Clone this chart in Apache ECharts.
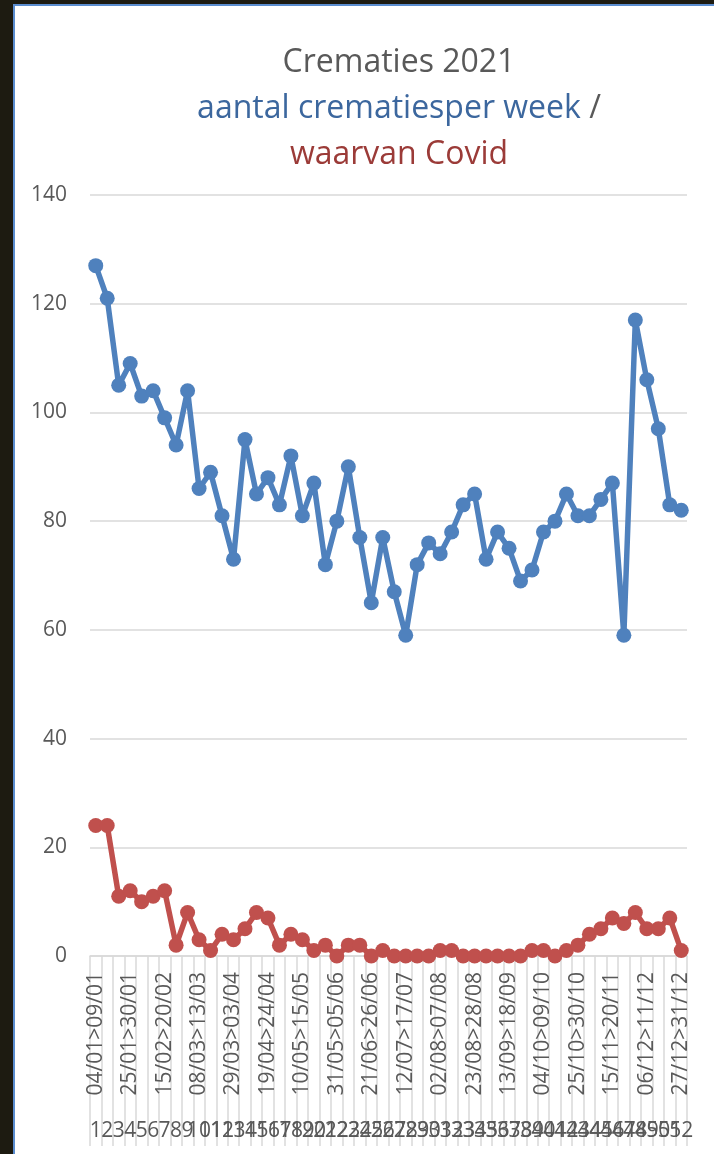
<!DOCTYPE html>
<html>
<head>
<meta charset="utf-8">
<script src="https://cdn.jsdelivr.net/npm/echarts@6/dist/echarts.min.js"></script>
<style>
  html, body { margin: 0; padding: 0; background: #1d1b11; }
  .frame {
    position: absolute; left: 13px; top: 4px; right: 0; bottom: 0;
    background: #fff;
    border-left: 2.5px solid #5b8dcf;
    border-top: 2px solid #5b8dcf;
  }
  #main { position: absolute; left: 0; top: 0; width: 714px; height: 1154px; }
</style>
</head>
<body>
<div class="frame"></div>
<div id="main"></div>
<script>
// week ranges (Mon > Sat) and week numbers
const weekRanges = [
  '04/01>09/01', '11/01>16/01', '18/01>23/01', '25/01>30/01', '01/02>06/02', '08/02>13/02',
  '15/02>20/02', '22/02>27/02', '01/03>06/03', '08/03>13/03', '15/03>20/03', '22/03>27/03',
  '29/03>03/04', '05/04>10/04', '12/04>17/04', '19/04>24/04', '26/04>01/05', '03/05>08/05',
  '10/05>15/05', '17/05>22/05', '24/05>29/05', '31/05>05/06', '07/06>12/06', '14/06>19/06',
  '21/06>26/06', '28/06>03/07', '05/07>10/07', '12/07>17/07', '19/07>24/07', '26/07>31/07',
  '02/08>07/08', '09/08>14/08', '16/08>21/08', '23/08>28/08', '30/08>04/09', '06/09>11/09',
  '13/09>18/09', '20/09>25/09', '27/09>02/10', '04/10>09/10', '11/10>16/10', '18/10>23/10',
  '25/10>30/10', '01/11>06/11', '08/11>13/11', '15/11>20/11', '22/11>27/11', '29/11>04/12',
  '06/12>11/12', '13/12>18/12', '20/12>25/12', '27/12>31/12'
]
const weekNumbers = [
  '1', '2', '3', '4', '5', '6', '7', '8', '9', '10', '11', '12', '13',
  '14', '15', '16', '17', '18', '19', '20', '21', '22', '23', '24', '25', '26',
  '27', '28', '29', '30', '31', '32', '33', '34', '35', '36', '37', '38', '39',
  '40', '41', '42', '43', '44', '45', '46', '47', '48', '49', '50', '51', '52'
]
const crematies = [
  127, 121, 105, 109, 103, 104, 99, 94, 104, 86, 89, 81, 73,
  95, 85, 88, 83, 92, 81, 87, 72, 80, 90, 77, 65, 77,
  67, 59, 72, 76, 74, 78, 83, 85, 73, 78, 75, 69, 71,
  78, 80, 85, 81, 81, 84, 87, 59, 117, 106, 97, 83, 82
]
const covid = [
  24, 24, 11, 12, 10, 11, 12, 2, 8, 3, 1, 4, 3,
  5, 8, 7, 2, 4, 3, 1, 2, 0, 2, 2, 0, 1,
  0, 0, 0, 0, 1, 1, 0, 0, 0, 0, 0, 0, 1,
  1, 0, 1, 2, 4, 5, 7, 6, 8, 5, 5, 7, 1
]

const font = '"Open Sans", sans-serif'
const grey = '#595959'
const lineGrey = '#d9d9d9'

const chart = echarts.init(document.getElementById('main'))
chart.setOption({
  animation: false,
  title: {
    text: '{g|Crematies 2021}\n{b|aantal crematiesper week }{g|/}\n{r|waarvan Covid}',
    left: 394,
    top: 35,
    textAlign: 'center',
    textStyle: {
      fontFamily: font,
      fontWeight: 'normal',
      rich: {
        g: { color: grey, fontSize: 32, lineHeight: 46, fontFamily: font, fontWeight: 'normal' },
        b: { color: '#3c679e', fontSize: 32, lineHeight: 46, fontFamily: font, fontWeight: 'normal' },
        r: { color: '#9b3b38', fontSize: 32, lineHeight: 46, fontFamily: font, fontWeight: 'normal' }
      }
    }
  },
  grid: { left: 90, right: 27, top: 195, bottom: 198, containLabel: false },
  xAxis: [
    {
      type: 'category',
      data: weekRanges,
      boundaryGap: true,
      axisLine: { lineStyle: { color: lineGrey, width: 1.5 } },
      axisTick: { show: true, interval: 0, length: 190, lineStyle: { color: lineGrey, width: 1.5 } },
      axisLabel: {
        interval: 2,
        rotate: 90,
        margin: 16,
        color: grey,
        fontSize: 21,
        fontFamily: font
      }
    },
    {
      type: 'category',
      data: weekNumbers,
      position: 'bottom',
      boundaryGap: true,
      axisLine: { show: false },
      axisTick: { show: false },
      axisLabel: {
        interval: 0,
        margin: 165,
        color: grey,
        fontSize: 21,
        fontFamily: font
      }
    }
  ],
  yAxis: {
    type: 'value',
    min: 0,
    max: 140,
    interval: 20,
    axisLine: { show: false },
    axisTick: { show: false },
    splitLine: { lineStyle: { color: lineGrey, width: 1.5 } },
    axisLabel: { color: grey, fontSize: 21, fontFamily: font, margin: 23 }
  },
  series: [
    {
      name: 'aantal crematies per week',
      type: 'line',
      data: crematies,
      symbol: 'circle',
      symbolSize: 15,
      showAllSymbol: true,
      lineStyle: { color: '#4f81bd', width: 5.5 },
      itemStyle: { color: '#4f81bd' }
    },
    {
      name: 'waarvan Covid',
      type: 'line',
      data: covid,
      symbol: 'circle',
      symbolSize: 15,
      showAllSymbol: true,
      lineStyle: { color: '#c0504d', width: 5.5 },
      itemStyle: { color: '#c0504d' }
    }
  ]
})
</script>
</body>
</html>
